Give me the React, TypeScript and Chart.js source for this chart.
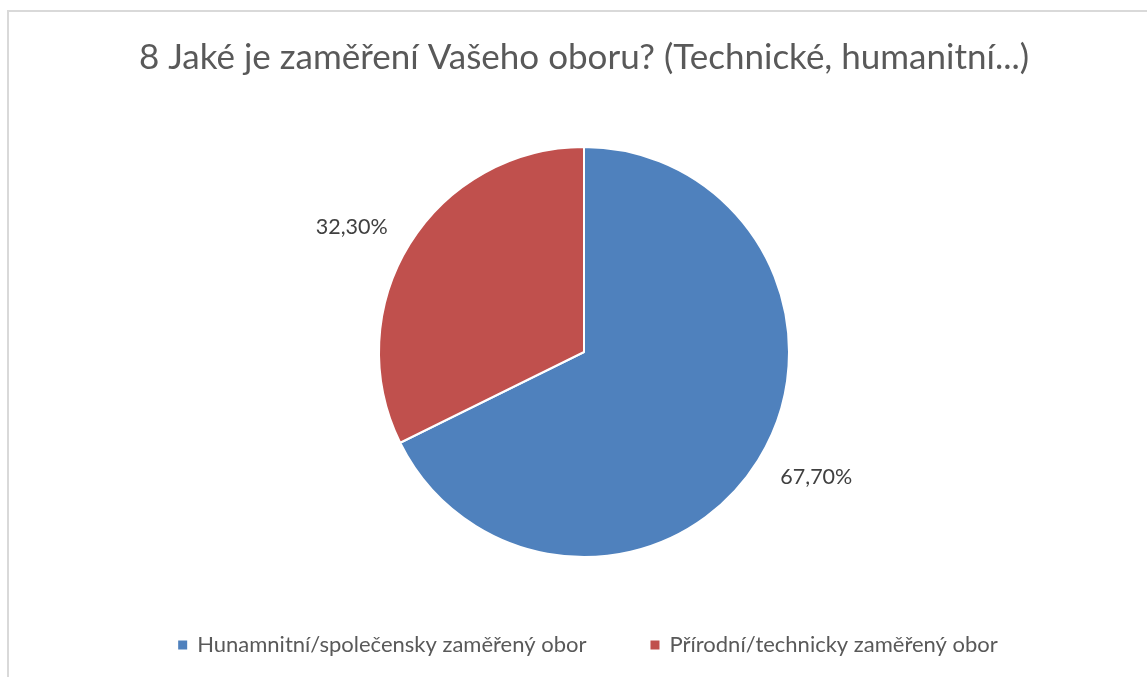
import React, { useEffect, useRef } from "react";
import { Chart, registerables } from "chart.js";

Chart.register(...registerables);

const titleText = "8 Jaké je zaměření Vašeho oboru? (Technické, humanitní...)";
const categories = ["Hunamnitní/společensky zaměřený obor", "Přírodní/technicky zaměřený obor"];
const values = [67.7, 32.3];
const valueLabels = ["67,70%", "32,30%"];
const colors = ["#4F81BD", "#C0504D"];

const FONT = "Lato, 'Open Sans', sans-serif";

const overlayPlugin = {
  id: "overlay",
  afterDraw(chart: any) {
    const ctx = chart.ctx as CanvasRenderingContext2D;
    ctx.save();
    // title
    ctx.fillStyle = "#595959";
    ctx.font = `35px ${FONT}`;
    ctx.textAlign = "center";
    ctx.textBaseline = "middle";
    ctx.fillText(titleText, 584, 58);

    // data labels
    const meta = chart.getDatasetMeta(0);
    ctx.font = `21.5px ${FONT}`;
    ctx.fillStyle = "#404040";
    meta.data.forEach((arc: any, i: number) => {
      const p = arc.getProps(["x", "y", "startAngle", "endAngle", "outerRadius"], true);
      const mid = (p.startAngle + p.endAngle) / 2 - (3.5 * Math.PI) / 180;
      const r = p.outerRadius + 59;
      ctx.fillText(valueLabels[i], p.x + Math.cos(mid) * r, p.y + Math.sin(mid) * r);
    });

    // legend
    ctx.font = `22px ${FONT}`;
    ctx.textAlign = "left";
    const box = 9;
    const boxGap = 10;
    const itemGap = 64;
    const widths = categories.map((c) => ctx.measureText(c).width);
    const total = widths.reduce((a, b) => a + b + box + boxGap, 0) + itemGap * (categories.length - 1);
    let x = 588 - total / 2;
    const y = 645;
    categories.forEach((c, i) => {
      ctx.fillStyle = colors[i];
      ctx.fillRect(x, y - box / 2, box, box);
      x += box + boxGap;
      ctx.fillStyle = "#595959";
      ctx.fillText(c, x, y);
      x += widths[i] + itemGap;
    });
    ctx.restore();
  },
};

export default function App() {
  const ref = useRef<HTMLCanvasElement>(null);
  useEffect(() => {
    if (!ref.current) return;
    const chart = new Chart(ref.current, {
      type: "pie",
      data: {
        labels: categories,
        datasets: [
          {
            data: values,
            backgroundColor: colors,
            borderColor: "#ffffff",
            borderWidth: 2,
          },
        ],
      },
      options: {
        animation: false,
        responsive: false,
        layout: { padding: { left: 21, right: 0, top: 146, bottom: 119 } },
        plugins: {
          legend: { display: false },
          title: { display: false },
          tooltip: { enabled: false },
        },
      },
      plugins: [overlayPlugin],
    });
    return () => chart.destroy();
  }, []);
  return (
    <div style={{ position: "absolute", left: 0, top: 0, width: 1147, height: 677, overflow: "hidden", background: "#fff" }}>
      <div
        style={{
          position: "absolute",
          left: 7,
          top: 10,
          width: 1200,
          height: 720,
          border: "2px solid #d9d9d9",
          boxSizing: "border-box",
        }}
      />
      <canvas ref={ref} width={1147} height={677} style={{ position: "absolute", left: 0, top: 0 }} />
    </div>
  );
}
